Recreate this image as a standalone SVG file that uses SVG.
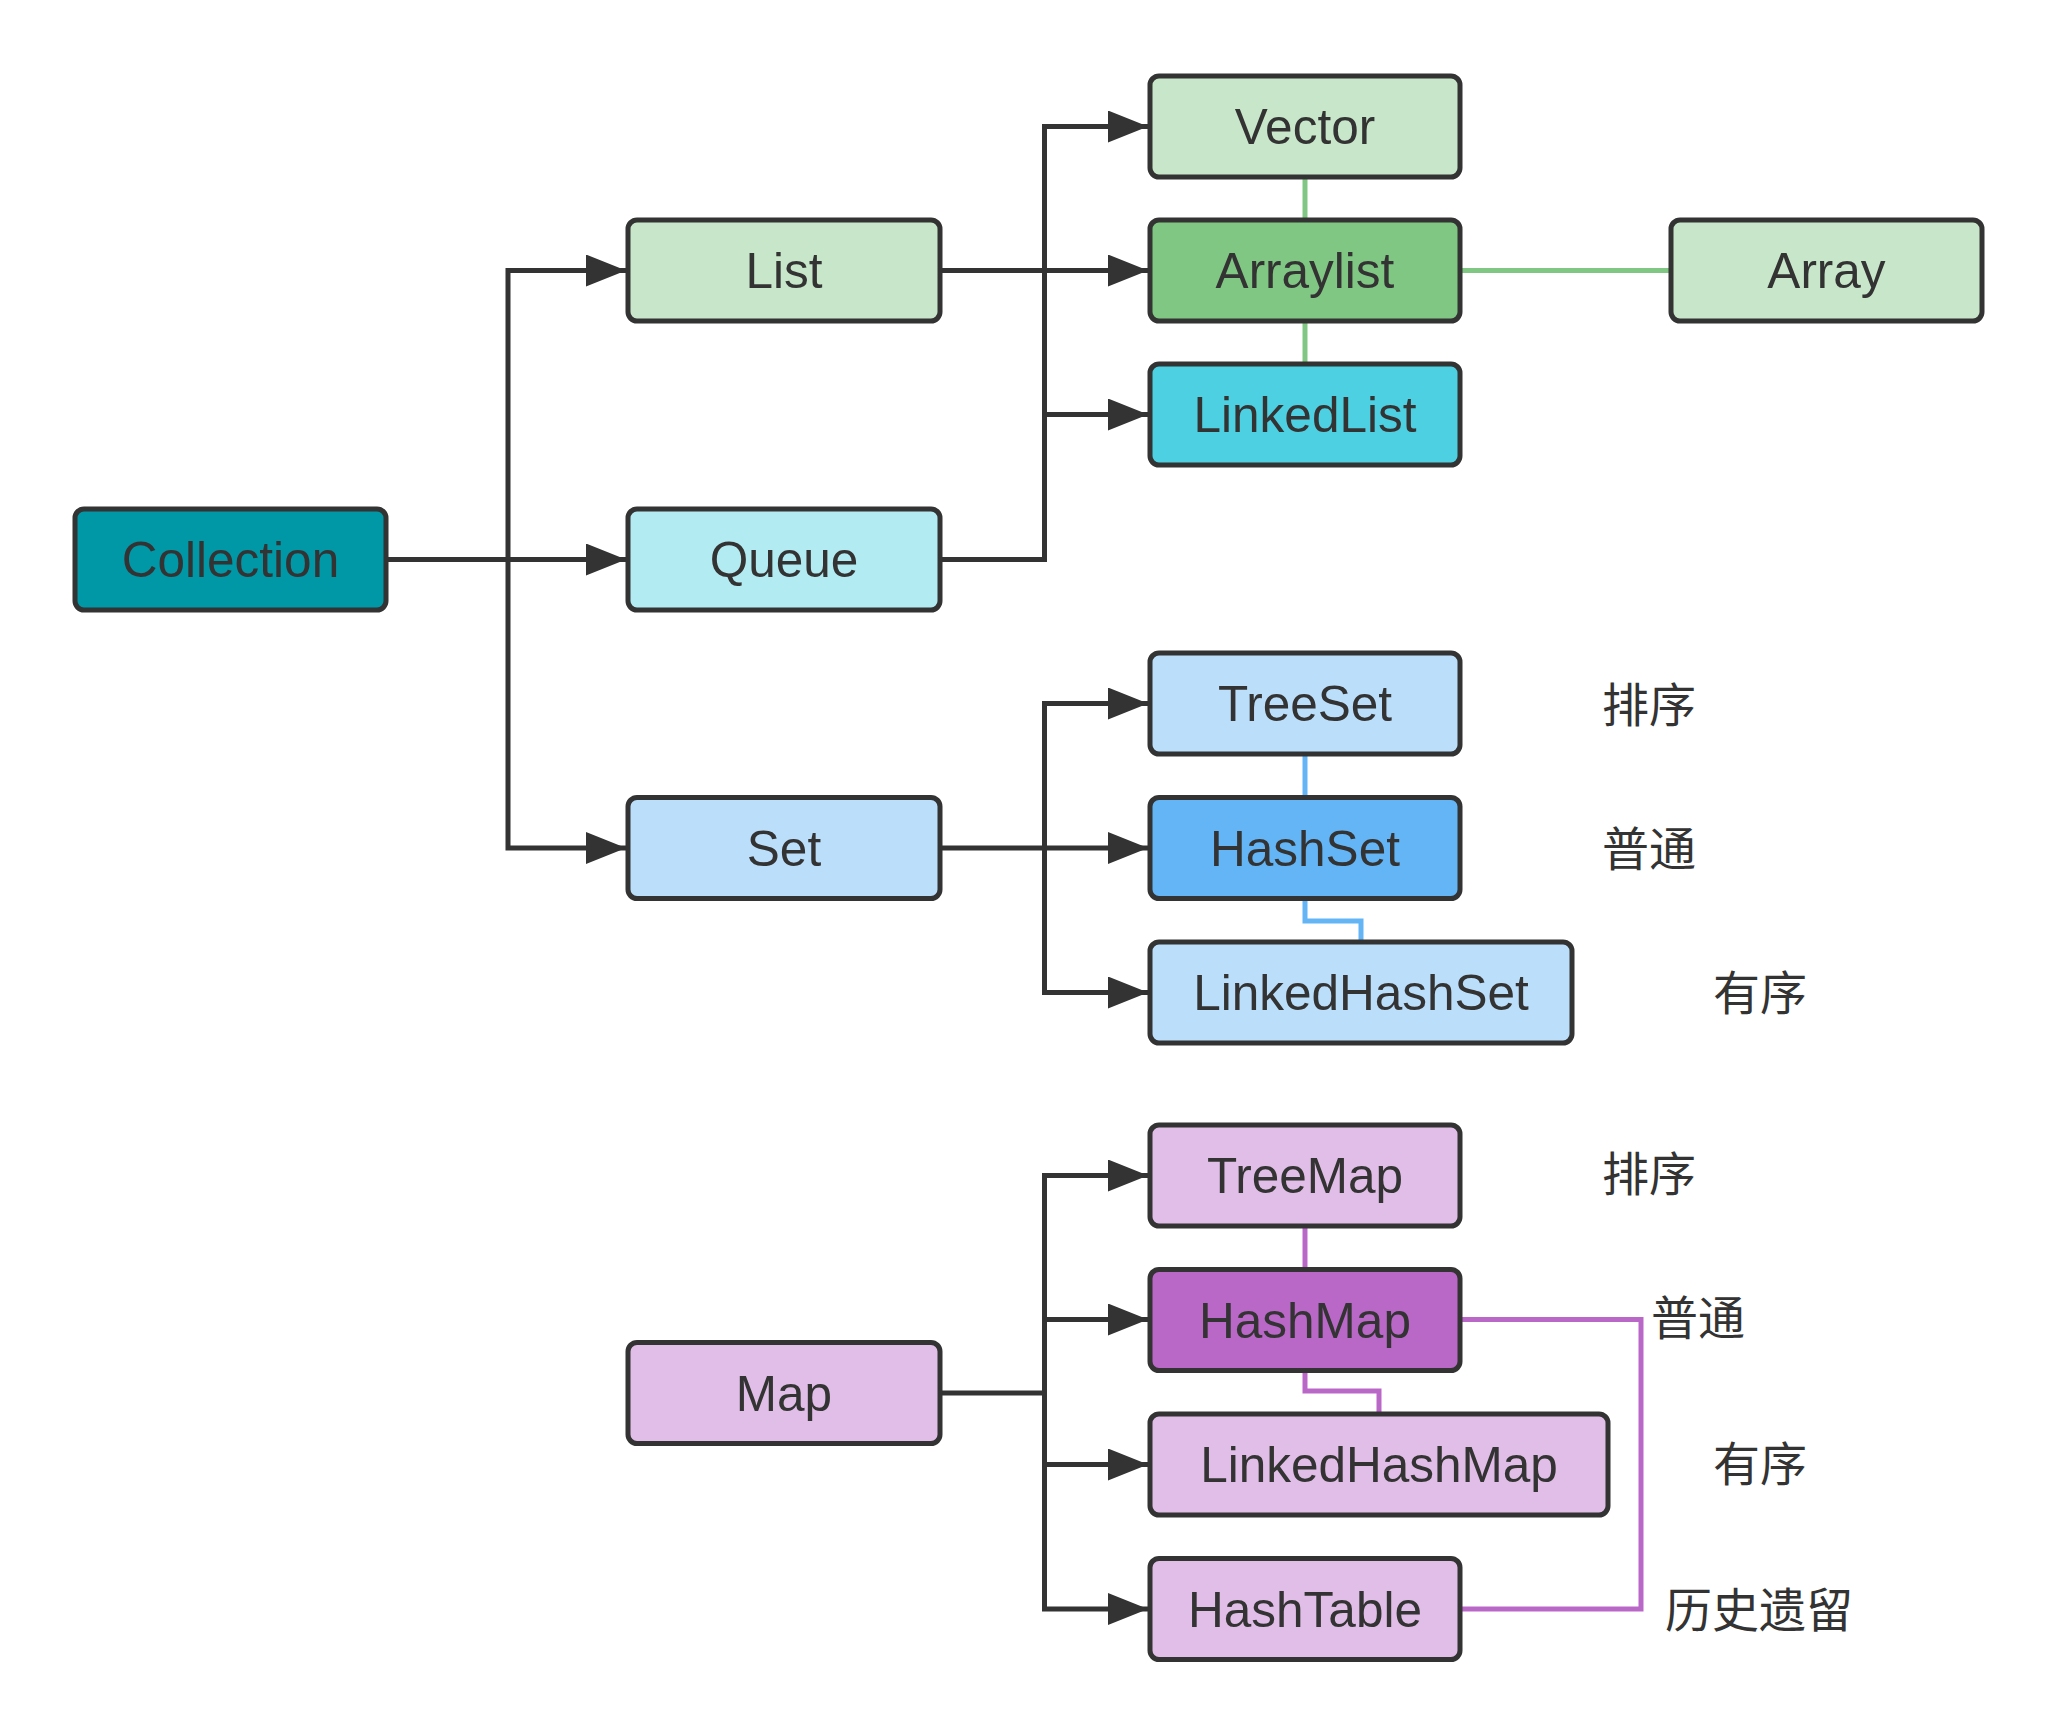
<svg xmlns="http://www.w3.org/2000/svg" width="2057" height="1736" viewBox="0 0 2057 1736">
<defs>
<style>
.box{stroke:#333333;stroke-width:5;}
.t{font-family:"Liberation Sans","Noto Sans CJK SC",sans-serif;font-size:49.5px;fill:#333333;text-anchor:middle;}
.c{font-family:"Noto Sans CJK SC","Liberation Sans",sans-serif;font-size:47px;fill:#333333;}
.conn{fill:none;stroke:#333333;stroke-width:5;}
.g{fill:none;stroke:#81C784;stroke-width:5;}
.b{fill:none;stroke:#64B5F6;stroke-width:5;}
.p{fill:none;stroke:#BA68C8;stroke-width:5;}
</style>
<marker id="arr" markerUnits="userSpaceOnUse" markerWidth="42" markerHeight="34" refX="40" refY="16" orient="auto">
<path d="M0,0 L40,16 L0,32 Z" fill="#333333"/>
</marker>
</defs>
<rect width="2057" height="1736" fill="#ffffff"/>
<g id="connectors">
<path class="conn" d="M385 559.5 H626" marker-end="url(#arr)"/>
<path class="conn" d="M508 559.5 V270.5 H626" marker-end="url(#arr)"/>
<path class="conn" d="M508 559.5 V848 H626" marker-end="url(#arr)"/>
<path class="conn" d="M940 270.5 H1148" marker-end="url(#arr)"/>
<path class="conn" d="M1044.5 270.5 V126.5 H1148" marker-end="url(#arr)"/>
<path class="conn" d="M1044.5 270.5 V414.5 H1148" marker-end="url(#arr)"/>
<path class="conn" d="M940 559.5 H1044.5 V414.5"/>
<path class="conn" d="M940 848 H1148" marker-end="url(#arr)"/>
<path class="conn" d="M1044.5 848 V703.5 H1148" marker-end="url(#arr)"/>
<path class="conn" d="M1044.5 848 V992.5 H1148" marker-end="url(#arr)"/>
<path class="conn" d="M940 1393 H1044.5"/>
<path class="conn" d="M1044.5 1393 V1175.5 H1148" marker-end="url(#arr)"/>
<path class="conn" d="M1044.5 1319.5 H1148" marker-end="url(#arr)"/>
<path class="conn" d="M1044.5 1393 V1464.5 H1148" marker-end="url(#arr)"/>
<path class="conn" d="M1044.5 1393 V1609 H1148" marker-end="url(#arr)"/>
<path class="g" d="M1305 177 V220"/>
<path class="g" d="M1305 321 V364"/>
<path class="g" d="M1460 270.5 H1671"/>
<path class="b" d="M1305 754 V797"/>
<path class="b" d="M1305 898 V921 H1361 V942"/>
<path class="p" d="M1305 1226 V1269.5"/>
<path class="p" d="M1305 1370.5 V1391 H1379 V1414"/>
<path class="p" d="M1460 1319.5 H1641 V1609 H1460"/>
</g>
<g id="collection"><rect class="box" x="75" y="509" width="311" height="101" rx="9" fill="#0097A7"/><text class="t" x="230.5" y="577">Collection</text></g>
<g id="list"><rect class="box" x="628" y="220" width="312" height="101" rx="9" fill="#C8E6C9"/><text class="t" x="784" y="288">List</text></g>
<g id="queue"><rect class="box" x="628" y="509" width="312" height="101" rx="9" fill="#B2EBF2"/><text class="t" x="784" y="577">Queue</text></g>
<g id="set"><rect class="box" x="628" y="797.5" width="312" height="101" rx="9" fill="#BBDEFB"/><text class="t" x="784" y="865.5">Set</text></g>
<g id="map"><rect class="box" x="628" y="1342.5" width="312" height="101" rx="9" fill="#E1BEE7"/><text class="t" x="784" y="1410.5">Map</text></g>
<g id="vector"><rect class="box" x="1150" y="76" width="310" height="101" rx="9" fill="#C8E6C9"/><text class="t" x="1305" y="144">Vector</text></g>
<g id="arraylist"><rect class="box" x="1150" y="220" width="310" height="101" rx="9" fill="#81C784"/><text class="t" x="1305" y="288">Arraylist</text></g>
<g id="linkedlist"><rect class="box" x="1150" y="364" width="310" height="101" rx="9" fill="#4DD0E1"/><text class="t" x="1305" y="432">LinkedList</text></g>
<g id="array"><rect class="box" x="1671" y="220" width="311" height="101" rx="9" fill="#C8E6C9"/><text class="t" x="1826.5" y="288">Array</text></g>
<g id="treeset"><rect class="box" x="1150" y="653" width="310" height="101" rx="9" fill="#BBDEFB"/><text class="t" x="1305" y="721">TreeSet</text></g>
<g id="hashset"><rect class="box" x="1150" y="797.5" width="310" height="101" rx="9" fill="#64B5F6"/><text class="t" x="1305" y="865.5">HashSet</text></g>
<g id="linkedhashset"><rect class="box" x="1150" y="942" width="422" height="101" rx="9" fill="#BBDEFB"/><text class="t" x="1361" y="1010">LinkedHashSet</text></g>
<g id="treemap"><rect class="box" x="1150" y="1125" width="310" height="101" rx="9" fill="#E1BEE7"/><text class="t" x="1305" y="1193">TreeMap</text></g>
<g id="hashmap"><rect class="box" x="1150" y="1269.5" width="310" height="101" rx="9" fill="#BA68C8"/><text class="t" x="1305" y="1337.5">HashMap</text></g>
<g id="linkedhashmap"><rect class="box" x="1150" y="1414" width="458" height="101" rx="9" fill="#E1BEE7"/><text class="t" x="1379" y="1482">LinkedHashMap</text></g>
<g id="hashtable"><rect class="box" x="1150" y="1558.5" width="310" height="101" rx="9" fill="#E1BEE7"/><text class="t" x="1305" y="1626.5">HashTable</text></g>
<g id="labels">
<text class="c" x="1602" y="722">排序</text>
<text class="c" x="1602" y="866">普通</text>
<text class="c" x="1713" y="1010">有序</text>
<text class="c" x="1602" y="1191">排序</text>
<text class="c" x="1651" y="1335">普通</text>
<text class="c" x="1713" y="1481">有序</text>
<text class="c" x="1665" y="1627">历史遗留</text>
</g>
</svg>
